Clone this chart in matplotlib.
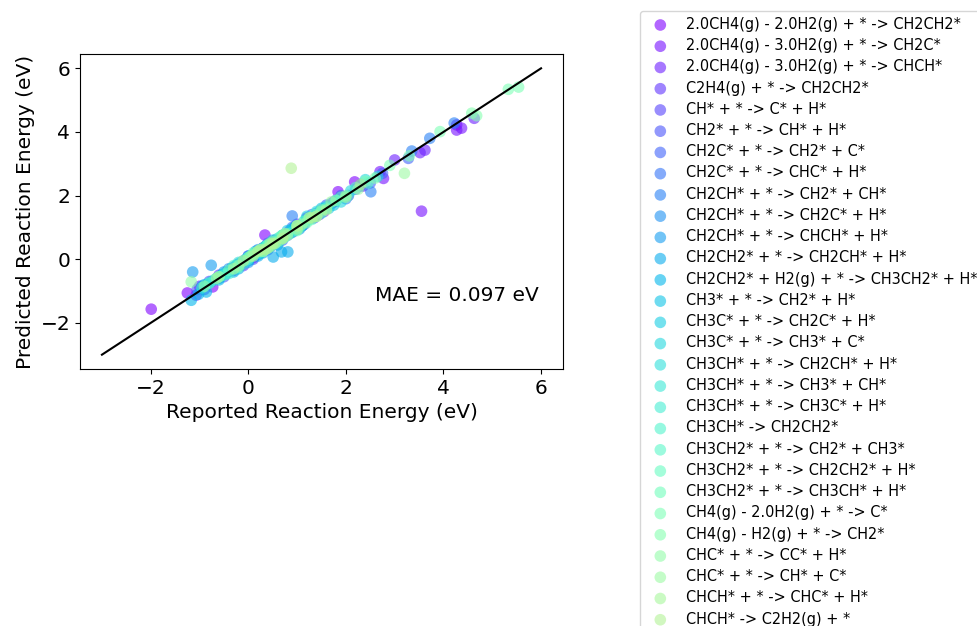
import matplotlib
matplotlib.use("Agg")
import matplotlib.pyplot as plt
import numpy as np

categories = [
    "2.0CH4(g) - 2.0H2(g) + * -> CH2CH2*",
    "2.0CH4(g) - 3.0H2(g) + * -> CH2C*",
    "2.0CH4(g) - 3.0H2(g) + * -> CHCH*",
    "C2H4(g) + * -> CH2CH2*",
    "CH* + * -> C* + H*",
    "CH2* + * -> CH* + H*",
    "CH2C* + * -> CH2* + C*",
    "CH2C* + * -> CHC* + H*",
    "CH2CH* + * -> CH2* + CH*",
    "CH2CH* + * -> CH2C* + H*",
    "CH2CH* + * -> CHCH* + H*",
    "CH2CH2* + * -> CH2CH* + H*",
    "CH2CH2* + H2(g) + * -> CH3CH2* + H*",
    "CH3* + * -> CH2* + H*",
    "CH3C* + * -> CH2C* + H*",
    "CH3C* + * -> CH3* + C*",
    "CH3CH* + * -> CH2CH* + H*",
    "CH3CH* + * -> CH3* + CH*",
    "CH3CH* + * -> CH3C* + H*",
    "CH3CH* -> CH2CH2*",
    "CH3CH2* + * -> CH2* + CH3*",
    "CH3CH2* + * -> CH2CH2* + H*",
    "CH3CH2* + * -> CH3CH* + H*",
    "CH4(g) - 2.0H2(g) + * -> C*",
    "CH4(g) - H2(g) + * -> CH2*",
    "CHC* + * -> CC* + H*",
    "CHC* + * -> CH* + C*",
    "CHCH* + * -> CHC* + H*",
    "CHCH* -> C2H2(g) + *",
]

reported = [
    [-1.99, -1.25, -0.73, 0.34, 1.84, 2.18, 0.90, 0.10, 1.20, 1.55, 0.55, -0.35, 2.05],
    [4.27, 4.37, 4.27, 3.55, 2.70, 2.77, 1.50, 0.60, 1.00, 2.35, 1.75, -0.10],
    [4.63, 3.62, 3.52, 3.00, 1.20, -1.07, 2.30, 1.90, 0.80, 1.45, 0.30, -0.55],
    [-0.90, -0.60, 0.00, -0.30, -1.00, 0.50, 0.85, 1.10],
    [0.20, 0.50, -0.10, 0.80, 1.00, 0.40, 1.35, -0.45, 1.80],
    [-0.50, -0.20, 0.10, -0.80, 0.30, 0.65, -1.05, 1.25],
    [1.60, 1.90, 2.20, 1.30, 2.50, 3.28, 0.95, 2.75, 1.05],
    [0.40, 0.70, 0.90, 0.20, -0.30, -0.75, 1.15, 0.05],
    [1.70, 2.00, 2.51, 3.35, 3.72, 4.22, 1.40, 2.30, 0.90, 1.10, 0.35, -0.95],
    [-0.40, -0.10, 0.20, -0.60, 0.00, 0.45, -0.85, 0.95],
    [-0.76, -1.14, 0.00, 0.30, -0.50, 0.50, 0.15, 1.05, -0.25],
    [0.68, 0.81, 0.51, 0.60, 0.20, -0.20, 0.35, 0.95, -0.55, 0.05],
    [-0.90, -0.60, -0.30, -1.17, -0.86, 0.00, -0.45, -1.02, 0.25],
    [0.90, 1.10, 1.30, 0.70, 1.50, 0.15, -0.35, 1.75],
    [0.50, 0.80, 0.30, 1.00, 1.20, -0.05, 1.65, -0.65],
    [1.60, 1.90, 2.10, 1.40, 2.40, 0.85, 1.15, 2.65],
    [-0.20, 0.10, 0.40, -0.50, 0.00, 0.70, -0.80, 0.25],
    [0.60, 0.90, 1.20, 1.50, 0.30, 1.80, 2.05, -0.15],
    [-0.70, -0.40, -0.10, 0.20, -0.95, 0.55, 0.35, -0.25],
    [-0.80, -0.50, -0.30, 0.00, 0.40, 0.75],
    [1.00, 1.30, 1.60, 1.90, 2.20, 1.15, 0.65, 2.45],
    [0.10, 0.40, 0.70, -0.20, 0.60, -0.60, 1.05, 0.25],
    [0.20, 0.50, 0.80, 0.00, 1.00, 1.35, -0.40, 0.65],
    [5.33, 5.54, 3.93, 2.90, 2.40, 1.80, 1.20, 0.70, 0.30, 1.50],
    [4.58, 4.68, 2.00, 2.60, 1.50, 1.00, 3.30, 0.45, 0.10, 1.25],
    [-1.17, -0.60, -0.20, 0.30, 0.70, -0.90, 0.05, 0.50],
    [1.10, 1.40, 1.70, 0.80, 2.00, 3.20, 0.45, 2.25, 1.25],
    [0.10, 0.40, 0.75, 1.00, 0.55, -0.30, -0.65, 0.25, 1.40],
    [0.88, 1.30, 1.60, 0.50, 0.20, 2.30, 0.70, 1.00, 0.35, -0.10],
]

predicted = [
    [-1.57, -1.06, -0.87, 0.76, 2.12, 2.43, 0.85, 0.05, 1.25, 1.50, 0.60, -0.30, 2.00],
    [4.22, 4.12, 4.06, 1.51, 2.75, 2.54, 1.55, 0.55, 1.05, 2.30, 1.80, -0.15],
    [4.43, 3.43, 3.35, 3.12, 1.30, -1.13, 2.35, 1.95, 0.80, 1.40, 0.35, -0.50],
    [-0.95, -0.50, 0.10, -0.35, -0.85, 0.45, 0.90, 1.05],
    [0.25, 0.45, -0.20, 0.75, 1.10, 0.30, 1.30, -0.40, 1.85],
    [-0.55, -0.15, 0.00, -0.70, 0.35, 0.60, -0.95, 1.30],
    [1.70, 2.00, 2.20, 1.40, 2.40, 3.17, 1.00, 2.70, 1.00],
    [0.50, 0.60, 1.00, 0.15, -0.25, -0.70, 1.10, 0.10],
    [1.75, 1.90, 2.12, 3.40, 3.80, 4.28, 1.45, 2.30, 1.36, 1.05, 0.40, -0.85],
    [-0.30, -0.05, 0.30, -0.60, -0.10, 0.40, -0.80, 1.00],
    [-0.19, -0.40, 0.10, 0.20, -0.40, 0.50, 0.25, 0.95, -0.20],
    [0.23, 0.23, 0.07, 0.45, 0.10, -0.30, 0.40, 0.90, -0.50, 0.10],
    [-0.80, -0.65, -0.40, -1.29, -1.03, -0.05, -0.45, -1.10, 0.20],
    [0.95, 1.05, 1.30, 0.75, 1.60, 0.20, -0.30, 1.70],
    [0.60, 0.90, 0.30, 0.95, 1.35, 0.00, 1.60, -0.60],
    [1.65, 1.80, 2.15, 1.50, 2.50, 0.80, 1.20, 2.60],
    [-0.10, 0.15, 0.35, -0.45, 0.05, 0.75, -0.75, 0.20],
    [0.65, 0.85, 1.20, 1.45, 0.35, 1.85, 2.00, -0.10],
    [-0.65, -0.45, -0.15, 0.20, -0.90, 0.50, 0.40, -0.30],
    [-0.75, -0.50, -0.20, 0.00, 0.45, 0.70],
    [1.05, 1.25, 1.60, 1.95, 2.25, 1.20, 0.70, 2.40],
    [0.20, 0.45, 0.70, -0.25, 0.55, -0.55, 1.00, 0.30],
    [0.25, 0.55, 0.80, 0.05, 0.90, 1.40, -0.35, 0.60],
    [5.34, 5.41, 4.01, 2.95, 2.45, 1.85, 1.15, 0.75, 0.25, 1.55],
    [4.59, 4.51, 2.00, 2.55, 1.50, 1.05, 3.25, 0.40, 0.15, 1.30],
    [-0.71, -0.55, -0.20, 0.25, 0.65, -0.85, 0.10, 0.45],
    [1.10, 1.35, 1.80, 0.75, 1.95, 2.70, 0.50, 2.20, 1.30],
    [0.10, 0.35, 0.80, 0.95, 0.50, -0.30, -0.60, 0.30, 1.35],
    [2.86, 1.30, 1.55, 0.50, 0.25, 2.35, 0.65, 1.05, 0.30, -0.05],
]

parity_line = [-3, 6]
mae_text = "MAE = 0.097 eV"

fig = plt.figure(figsize=(9.78, 6.26), dpi=100)
ax = fig.add_axes([80 / 978, 1 - 369 / 626, (563 - 80) / 978, (369 - 54) / 626])

colors = plt.cm.rainbow(np.linspace(0, 0.6, len(categories)))
for cat, xs, ys, c in zip(categories, reported, predicted, colors):
    ax.scatter(xs, ys, s=70, color=c, alpha=0.6, edgecolors="none", label=cat)

ax.plot(parity_line, parity_line, color="black", lw=1.5)
ax.text(2.6, -1.15, mae_text, fontsize=14.5, ha="left", va="center")

ax.set_xlabel("Reported Reaction Energy (eV)", fontsize=14.5)
ax.set_ylabel("Predicted Reaction Energy (eV)", fontsize=14.5)
ax.tick_params(labelsize=14.5)
ax.set_xticks([-2, 0, 2, 4, 6])
ax.set_yticks([-2, 0, 2, 4, 6])

fig.legend(loc="upper left", bbox_to_anchor=(640 / 978, 1 - 11 / 626),
           bbox_transform=fig.transFigure, borderaxespad=0, fontsize=10.45,
           labelspacing=0.43)

fig.savefig("out.png", dpi=100)
